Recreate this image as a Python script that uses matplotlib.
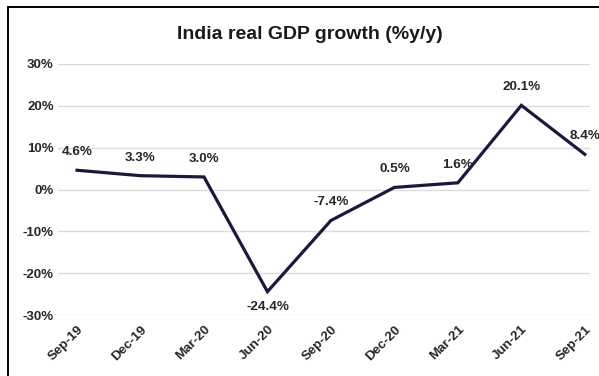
import matplotlib.pyplot as plt
import matplotlib.patches as patches

plt.rcParams['font.family'] = ['Liberation Sans', 'DejaVu Sans']

quarters = ['Sep-19', 'Dec-19', 'Mar-20', 'Jun-20', 'Sep-20', 'Dec-20', 'Mar-21', 'Jun-21', 'Sep-21']
growth = [4.6, 3.3, 3.0, -24.4, -7.4, 0.5, 1.6, 20.1, 8.4]
yticks = [-30, -20, -10, 0, 10, 20, 30]

fig = plt.figure(figsize=(5.99, 3.76), dpi=100)
ax = fig.add_axes([0.0968, 0.162, 0.888, 0.668])

x = list(range(len(quarters)))
ax.plot(x, growth, color='#191940', linewidth=2.3, solid_joinstyle='miter', zorder=3)

for xi, v in zip(x, growth):
    dy = -11 if v < -20 else 13
    ax.annotate(f'{v:.1f}%', (xi, v), xytext=(0, dy), textcoords='offset points',
                ha='center', va='center', fontsize=9.7, fontweight='bold', color='#262626')

ax.set_ylim(-30, 30)
ax.set_xlim(-0.3, 8.08)
ax.set_yticks(yticks)
ax.set_yticklabels([f'{t}%' for t in yticks], fontsize=9.5, fontweight='bold', color='#262626')
ax.set_xticks(x)
ax.set_xticklabels(quarters, rotation=45, ha='right', rotation_mode='anchor',
                   fontsize=9.6, fontweight='bold', color='#262626')
ax.tick_params(length=0, pad=3)
ax.tick_params(axis='x', pad=6)
ax.grid(axis='y', color='#dcdcdc', linewidth=1)
ax.set_axisbelow(True)
for s in ax.spines.values():
    s.set_visible(False)

fig.text(0.518, 0.907, 'India real GDP growth (%y/y)', ha='center', va='center',
         fontsize=14, fontweight='bold', color='#1a1a1a')

border = patches.Rectangle((8 / 599, -0.01), 1.0, 1 - 7 / 376 + 0.01, transform=fig.transFigure,
                           fill=False, edgecolor='black', linewidth=1.4)
fig.patches.append(border)

plt.savefig('out.png', dpi=100)
